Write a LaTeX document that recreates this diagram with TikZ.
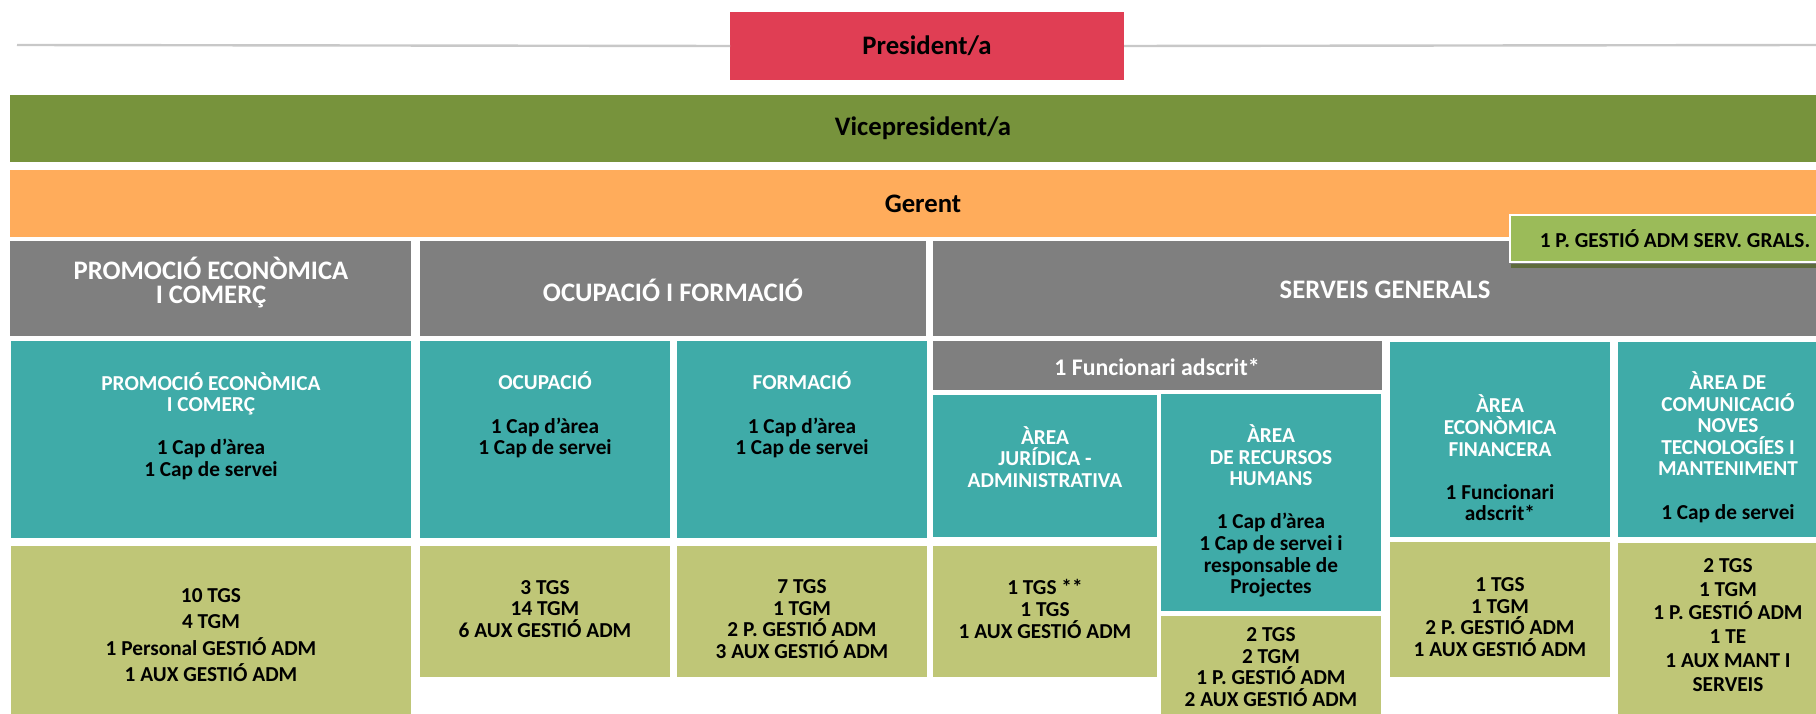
\documentclass[tikz,border=0pt]{standalone}
\usepackage{fontspec}
\setmainfont{Carlito}
\usetikzlibrary{fit}

\definecolor{presred}{HTML}{E03E54}
\definecolor{vicegreen}{HTML}{77933C}
\definecolor{gerorange}{HTML}{FFAC5B}
\definecolor{hdrgray}{HTML}{7F7F7F}
\definecolor{areateal}{HTML}{3FABA8}
\definecolor{staffolive}{HTML}{BFC677}
\definecolor{gralgreen}{HTML}{9BBB59}
\definecolor{shadowolive}{HTML}{5E6B3C}
\definecolor{rulegray}{HTML}{C8C8C8}

\newcommand{\wt}[1]{\textcolor{white}{#1}}

\tikzset{
  blk/.style={inner sep=0pt, outer sep=0pt, fill=#1},
  hdr/.style={font=\fontsize{26.7}{24}\selectfont\bfseries, align=center, inner sep=0pt},
  txt/.style={font=\fontsize{21.3}{21.6}\selectfont\bfseries, align=center, inner sep=0pt},
  rule/.style={draw=rulegray, line width=2.4pt},
}

\begin{document}
\begin{tikzpicture}[x=1pt,y=-1pt]
    \useasboundingbox (0,0) rectangle (1816,714);
    \coordinate (ruleL) at (17,45);
    \coordinate (ruleR) at (1816,45);

    \node[blk=presred, fit={(730,12)(1124,80)}] (pres) {};
    \draw[rule] (ruleL) -- (pres.west);
    \draw[rule] (pres.east) -- (ruleR);
    \node[hdr] (pres-t) at (pres) {President/a};

    \node[blk=vicegreen, fit={(10,95)(1836,162)}] (vice) {};
    \node[hdr] (vice-t) at (vice) {Vicepresident/a};
    \node[blk=gerorange, fit={(10,170)(1836,237)}] (ger) {};
    \node[hdr] (ger-t) at (ger) {Gerent};

    \node[blk=hdrgray, fit={(10,241)(411,336)}] (promo) {};
    \node[blk=hdrgray, fit={(420,241)(926,336)}] (ocfo) {};
    \node[blk=hdrgray, fit={(933,241)(1836,336)}] (sgen) {};
    \node[hdr, text=white] (promo-t) at (211,283) {PROMOCIÓ ECONÒMICA\\I COMERÇ};
    \node[hdr, text=white] (ocfo-t) at (673,290) {OCUPACIÓ I FORMACIÓ};
    \node[hdr, text=white] (sgen-t) at (1385,290) {SERVEIS GENERALS};

    \node[draw=white, line width=2.7pt, fill=gralgreen, inner sep=0pt, fit={(1510,215)(1840,262)}] (grals) {};
    \fill[shadowolive] (1511,264) rectangle (1840,268);
    \node[txt] (grals-t) at (1675,239) {1 P. GESTIÓ ADM SERV. GRALS.};

    \node[blk=areateal, fit={(11,341)(411,538)}] (a1) {};
    \node[blk=areateal, fit={(420,341)(670,538)}] (a2) {};
    \node[blk=areateal, fit={(677,341)(927,538)}] (a3) {};
    \node[blk=hdrgray, fit={(933,341)(1382,390)}] (func) {};
    \node[blk=areateal, fit={(933,395)(1157,537)}] (a4) {};
    \node[blk=areateal, fit={(1161,394)(1381,611)}] (a5) {};
    \node[blk=areateal, fit={(1390,342)(1610,537)}] (a6) {};
    \node[blk=areateal, fit={(1618,342)(1838,537)}] (a7) {};

    \node[txt] (a1-t) at (211,426) {\wt{PROMOCIÓ ECONÒMICA}\\\wt{I COMERÇ}\\[21.6pt]1 Cap d’àrea\\1 Cap de servei};
    \node[txt] (a2-t) at (545,415) {\wt{OCUPACIÓ}\\[21.6pt]1 Cap d’àrea\\1 Cap de servei};
    \node[txt] (a3-t) at (802,415) {\wt{FORMACIÓ}\\[21.6pt]1 Cap d’àrea\\1 Cap de servei};
    \node[txt, text=white, font=\fontsize{23.8}{24}\selectfont\bfseries] (func-t) at (1157,367) {1 Funcionari adscrit*};
    \node[txt, text=white] (a4-t) at (1045,457) {ÀREA\\JURÍDICA -\\ADMINISTRATIVA};
    \node[txt] (a5-t) at (1271,511) {\wt{ÀREA}\\\wt{DE RECURSOS}\\\wt{HUMANS}\\[21.6pt]1 Cap d’àrea\\1 Cap de servei i\\responsable de\\Projectes};
    \node[txt] (a6-t) at (1500,458) {\wt{ÀREA}\\\wt{ECONÒMICA}\\\wt{FINANCERA}\\[21.6pt]1 Funcionari\\adscrit*};
    \node[txt] (a7-t) at (1728,447) {\wt{ÀREA DE}\\\wt{COMUNICACIÓ}\\\wt{NOVES}\\\wt{TECNOLOGÍES I}\\\wt{MANTENIMENT}\\[21.6pt]1 Cap de servei};

    \node[blk=staffolive, fit={(11,546)(411,720)}] (s1) {};
    \node[blk=staffolive, fit={(420,546)(670,677)}] (s2) {};
    \node[blk=staffolive, fit={(677,546)(927,677)}] (s3) {};
    \node[blk=staffolive, fit={(933,546)(1157,677)}] (s4) {};
    \node[blk=staffolive, fit={(1161,616)(1381,720)}] (s5) {};
    \node[blk=staffolive, fit={(1390,542)(1610,677)}] (s6) {};
    \node[blk=staffolive, fit={(1618,543)(1838,720)}] (s7) {};

    \node[txt, font=\fontsize{21.3}{26.4}\selectfont\bfseries] (s1-t) at (211,635) {10 TGS\\4 TGM\\1 Personal GESTIÓ ADM\\1 AUX GESTIÓ ADM};
    \node[txt] (s2-t) at (545,609) {3 TGS\\14 TGM\\6 AUX GESTIÓ ADM};
    \node[txt] (s3-t) at (802,619) {7 TGS\\1 TGM\\2 P. GESTIÓ ADM\\3 AUX GESTIÓ ADM};
    \node[txt] (s4-t) at (1045,609) {1 TGS **\\1 TGS\\1 AUX GESTIÓ ADM};
    \node[txt] (s5-t) at (1271,667) {2 TGS\\2 TGM\\1 P. GESTIÓ ADM\\2 AUX GESTIÓ ADM};
    \node[txt] (s6-t) at (1500,617) {1 TGS\\1 TGM\\2 P. GESTIÓ ADM\\1 AUX GESTIÓ ADM};
    \node[txt, font=\fontsize{21.3}{23.9}\selectfont\bfseries] (s7-t) at (1728,625) {2 TGS\\1 TGM\\1 P. GESTIÓ ADM\\1 TE\\1 AUX MANT I\\SERVEIS};
\end{tikzpicture}
\end{document}
